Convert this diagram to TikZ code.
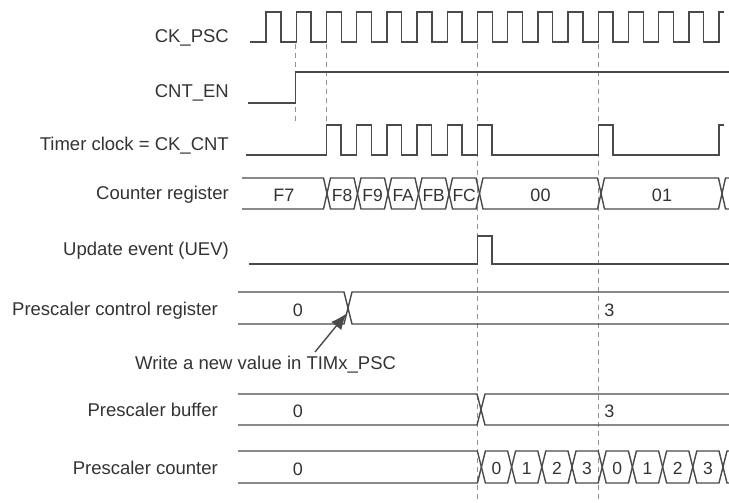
\documentclass[tikz,border=0pt]{standalone}
\usepackage{fontspec}
\setmainfont{Liberation Sans}
\usetikzlibrary{arrows.meta}
\definecolor{sigcol}{HTML}{4A4A4A}
\definecolor{txtcol}{HTML}{333333}
\definecolor{dashcol}{HTML}{909090}
\newcommand\hexbox[5]{% a, b, top, bot, d
  \draw[sig] (#1,{(#3+#4)/2}) -- ({#1+#5},#3) -- ({#2-#5},#3) -- (#2,{(#3+#4)/2}) -- ({#2-#5},#4) -- ({#1+#5},#4) -- cycle;}
\newcommand\hexstart[5]{% start, b, top, bot, d
  \draw[sig] (#1,#3) -- ({#2-#5},#3) -- (#2,{(#3+#4)/2}) -- ({#2-#5},#4) -- (#1,#4);}
\newcommand\hexend[5]{% a, end, top, bot, d
  \draw[sig] (#2,#3) -- ({#1+#5},#3) -- (#1,{(#3+#4)/2}) -- ({#1+#5},#4) -- (#2,#4);}
\begin{document}
\begin{tikzpicture}[x=1pt,y=-1pt,
  sig/.style={draw=sigcol,line width=1.4pt,line join=miter},
  guide/.style={draw=dashcol,line width=1pt,dash pattern=on 5pt off 4pt},
  lbl/.style={text=txtcol,font=\fontsize{18.5}{22}\selectfont,inner sep=0pt,anchor=base east},
  val/.style={text=txtcol,font=\fontsize{18}{22}\selectfont,inner sep=0pt,anchor=base},
  sval/.style={text=txtcol,font=\fontsize{17.5}{20}\selectfont,inner sep=0pt,anchor=base},
  note/.style={text=txtcol,font=\fontsize{18.5}{22}\selectfont,inner sep=0pt,anchor=base west}]
\useasboundingbox (0,0) rectangle (729,503);
% guide lines
\draw[guide] (295.5,44) -- (295.5,122);
\draw[guide] (326.4,44) -- (326.4,124);
\draw[guide] (477.4,44) -- (477.4,500);
\draw[guide] (598.2,44) -- (598.2,500);
% labels
\node[lbl] (lck)  at (229,42.5) {CK\_PSC};
\node[lbl] (len)  at (229,97.3) {CNT\_EN};
\node[lbl] (ltc)  at (229,150) {Timer clock = CK\_CNT};
\node[lbl] (lcr)  at (229,199.5) {Counter register};
\node[lbl] (luev) at (229,255.7) {Update event (UEV)};
\node[lbl] (lpcr) at (218,315) {Prescaler control register};
\node[lbl] (lpb)  at (218,416) {Prescaler buffer};
\node[lbl] (lpc)  at (218,474) {Prescaler counter};
% CK_PSC
\draw[sig] (250,42) \foreach \k in {0,...,14}{ -- ({266+30.2*\k},42) -- ({266+30.2*\k},12) -- ({280.8+30.2*\k},12) -- ({280.8+30.2*\k},42)} -- (719,42) -- (719,12) -- (724,12);
% CNT_EN
\draw[sig] (248,103) -- (295.5,103) -- (295.5,72) -- (729,72);
% Timer clock
\draw[sig] (246,155) \foreach \k in {2,...,7}{ -- ({266+30.2*\k},155) -- ({266+30.2*\k},125) -- ({280.6+30.2*\k},125) -- ({280.6+30.2*\k},155)} -- (598.2,155) -- (598.2,125) -- (613,125) -- (613,155) -- (719,155) -- (719,125) -- (724,125);
% Counter register
\hexstart{242}{327}{178}{209}{3.5}
\hexbox{327}{357.5}{178}{209}{3.5}
\hexbox{357.5}{388}{178}{209}{3.5}
\hexbox{388}{418.5}{178}{209}{3.5}
\hexbox{418.5}{449}{178}{209}{3.5}
\hexbox{449}{479.5}{178}{209}{3.5}
\hexbox{479.5}{601}{178}{209}{3.5}
\hexbox{601}{722}{178}{209}{3.5}
\hexend{722}{729}{178}{209}{3.5}
\node[val]  (cF7) at (284,201.5) {F7};
\node[sval] (cF8) at (342.2,201) {F8};
\node[sval] (cF9) at (372.7,201) {F9};
\node[sval] (cFA) at (403.2,201) {FA};
\node[sval] (cFB) at (433.7,201) {FB};
\node[sval] (cFC) at (464.2,201) {FC};
\node[val]  (c00) at (540.5,201) {00};
\node[val]  (c01) at (662,201) {01};
% UEV
\draw[sig] (249,264) -- (477.4,264) -- (477.4,236) -- (492,236) -- (492,264) -- (729,264);
% Prescaler control register
\hexstart{238}{348}{292}{324}{4}
\hexend{348}{729}{292}{324}{4}
\node[val] (pc0) at (298,316) {0};
\node[val] (pc3) at (609.5,316) {3};
% note + arrow
\node[note] (wnote) at (135,369.5) {Write a new value in TIMx\_PSC};
\coordinate (atail) at (315,352);
\coordinate (atip) at (346.5,313.5);
\draw[draw=sigcol,line width=1.4pt,-{Latex[length=16pt,width=13pt]}] (atail) -- (atip);
% Prescaler buffer
\hexstart{238}{481}{394}{425}{4}
\hexend{481}{729}{394}{425}{4}
\node[val] (pb0) at (298,417) {0};
\node[val] (pb3) at (609.5,417.5) {3};
% Prescaler counter
\hexstart{238}{481.4}{451}{483}{4}
\foreach \i/\v in {0/0,1/1,2/2,3/3,4/0,5/1,6/2,7/3}{
  \hexbox{481.4+30.2*\i}{511.6+30.2*\i}{451}{483}{4}
  \node[sval] (pq\i) at ({496.5+30.2*\i},474.5) {\v};
}
\hexend{723}{729}{451}{483}{4}
\node[val] (pq0l) at (298,475) {0};
\end{tikzpicture}
\end{document}
